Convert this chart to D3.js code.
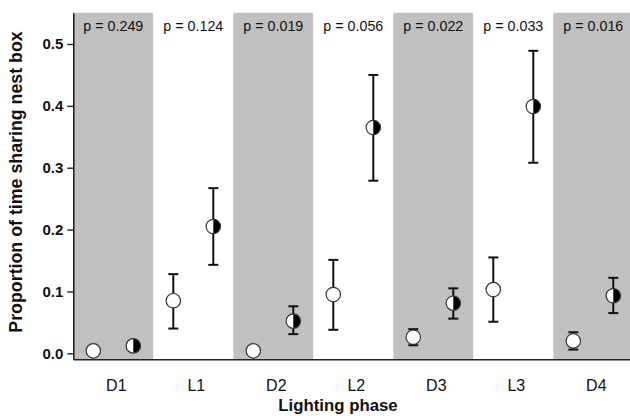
<!DOCTYPE html>
<html>
<head>
  <meta charset="utf-8" />
  <style>
    body { margin: 0; background: white; }
    svg { display: block; font-family: "Liberation Sans", Arial, sans-serif; }
  </style>
</head>
<body>
  <svg id="chart" width="630" height="416"></svg>
  <script src="https://d3js.org/d3.v7.min.js"></script>
  <script>
    // values
    var phases = ["D1", "L1", "D2", "L2", "D3", "L3", "D4"];
    var pValues = ["0.249", "0.124", "0.019", "0.056", "0.022", "0.033", "0.016"];
    var yTicks = [0, 0.1, 0.2, 0.3, 0.4, 0.5];

    var openMean = [0.004, 0.085, 0.004, 0.095, 0.026, 0.103, 0.020];
    var openLow  = [0.004, 0.040, 0.004, 0.038, 0.013, 0.051, 0.006];
    var openHigh = [0.004, 0.128, 0.004, 0.151, 0.039, 0.155, 0.034];

    var filledMean = [0.012, 0.205, 0.052, 0.365, 0.081, 0.399, 0.093];
    var filledLow  = [0.012, 0.143, 0.031, 0.279, 0.056, 0.308, 0.065];
    var filledHigh = [0.012, 0.267, 0.076, 0.450, 0.105, 0.489, 0.122];

    var svg = d3.select('#chart');
    var mLeft = 73.3, mRight = 633.3, mTop = 12.7, mBottom = 359.3;

    var x = d3.scaleBand().domain(phases).range([mLeft, mRight]).padding(0);
    var y = d3.scaleLinear().domain([-0.0097, 0.5506]).range([mBottom, mTop]);
    var offset = d3.scalePoint().domain(["open", "filled"]).range([x.bandwidth() / 2 - 20, x.bandwidth() / 2 + 20]);

    // shaded dark phases
    svg.append('g').selectAll('rect')
      .data(phases)
      .join('rect')
      .attr('x', d => x(d))
      .attr('y', mTop)
      .attr('width', x.bandwidth())
      .attr('height', mBottom - mTop)
      .attr('fill', d => d[0] === 'D' ? '#c0c0c0' : 'white');

    // p labels
    svg.append('g').selectAll('text')
      .data(phases)
      .join('text')
      .attr('x', d => x(d) + x.bandwidth() / 2)
      .attr('y', 31)
      .attr('text-anchor', 'middle')
      .attr('font-size', 14.3)
      .attr('fill', '#111')
      .text((d, i) => 'p = ' + pValues[i]);

    // axes
    var yAxis = d3.axisLeft(y).tickValues(yTicks).tickFormat(d3.format('.1f')).tickSize(6).tickSizeOuter(0).tickPadding(4);
    var gy = svg.append('g').attr('transform', 'translate(' + mLeft + ',0)').call(yAxis);
    gy.select('.domain').attr('stroke', '#222').attr('stroke-width', 1.6);
    gy.selectAll('.tick line').attr('stroke', '#222').attr('stroke-width', 1.4);
    gy.selectAll('.tick text').attr('font-size', 15).attr('font-weight', 'bold').attr('fill', '#111')
      .attr('font-family', '"Liberation Sans", Arial, sans-serif');

    var xAxis = d3.axisBottom(x).tickSize(0).tickPadding(20);
    var gx = svg.append('g').attr('transform', 'translate(0,' + mBottom + ')').call(xAxis);
    gx.select('.domain').attr('stroke', '#222').attr('stroke-width', 1.6);
    gx.selectAll('.tick text').attr('font-size', 16).attr('fill', '#111').attr('dx', 3)
      .attr('font-family', '"Liberation Sans", Arial, sans-serif');

    // titles
    svg.append('text')
      .attr('x', 338).attr('y', 411)
      .attr('text-anchor', 'middle')
      .attr('font-size', 16.8).attr('font-weight', 'bold').attr('fill', '#111')
      .text('Lighting phase');

    svg.append('text')
      .attr('transform', 'translate(22,182) rotate(-90)')
      .attr('text-anchor', 'middle')
      .attr('font-size', 17.8).attr('font-weight', 'bold').attr('fill', '#111')
      .text('Proportion of time sharing nest box');

    // points
    var series = [
      { key: 'open', mean: openMean, low: openLow, high: openHigh },
      { key: 'filled', mean: filledMean, low: filledLow, high: filledHigh }
    ];
    var r = 7.2, cap = 5;

    series.forEach(function (s) {
      var g = svg.append('g');
      var pts = g.selectAll('g.pt')
        .data(phases)
        .join('g')
        .attr('class', 'pt')
        .attr('transform', (d, i) => 'translate(' + (x(d) + offset(s.key)) + ',0)');

      pts.append('line')
        .attr('x1', 0).attr('x2', 0)
        .attr('y1', (d, i) => y(s.low[i])).attr('y2', (d, i) => y(s.high[i]))
        .attr('stroke', '#111').attr('stroke-width', 2);
      pts.append('line')
        .attr('x1', -cap).attr('x2', cap)
        .attr('y1', (d, i) => y(s.high[i])).attr('y2', (d, i) => y(s.high[i]))
        .attr('stroke', '#111').attr('stroke-width', 2)
        .attr('display', (d, i) => s.high[i] > s.mean[i] ? null : 'none');
      pts.append('line')
        .attr('x1', -cap).attr('x2', cap)
        .attr('y1', (d, i) => y(s.low[i])).attr('y2', (d, i) => y(s.low[i]))
        .attr('stroke', '#111').attr('stroke-width', 2)
        .attr('display', (d, i) => s.low[i] < s.mean[i] ? null : 'none');

      pts.append('circle')
        .attr('cy', (d, i) => y(s.mean[i]))
        .attr('r', r)
        .attr('fill', 'white');
      if (s.key === 'filled') {
        pts.append('path')
          .attr('d', (d, i) => {
            var cy = y(s.mean[i]);
            return 'M0,' + (cy - r) + 'A' + r + ',' + r + ' 0 0 1 0,' + (cy + r) + 'Z';
          })
          .attr('fill', '#000');
      }
      pts.append('circle')
        .attr('cy', (d, i) => y(s.mean[i]))
        .attr('r', r)
        .attr('fill', 'none')
        .attr('stroke', '#333')
        .attr('stroke-width', 1.2);
    });
  </script>
</body>
</html>
